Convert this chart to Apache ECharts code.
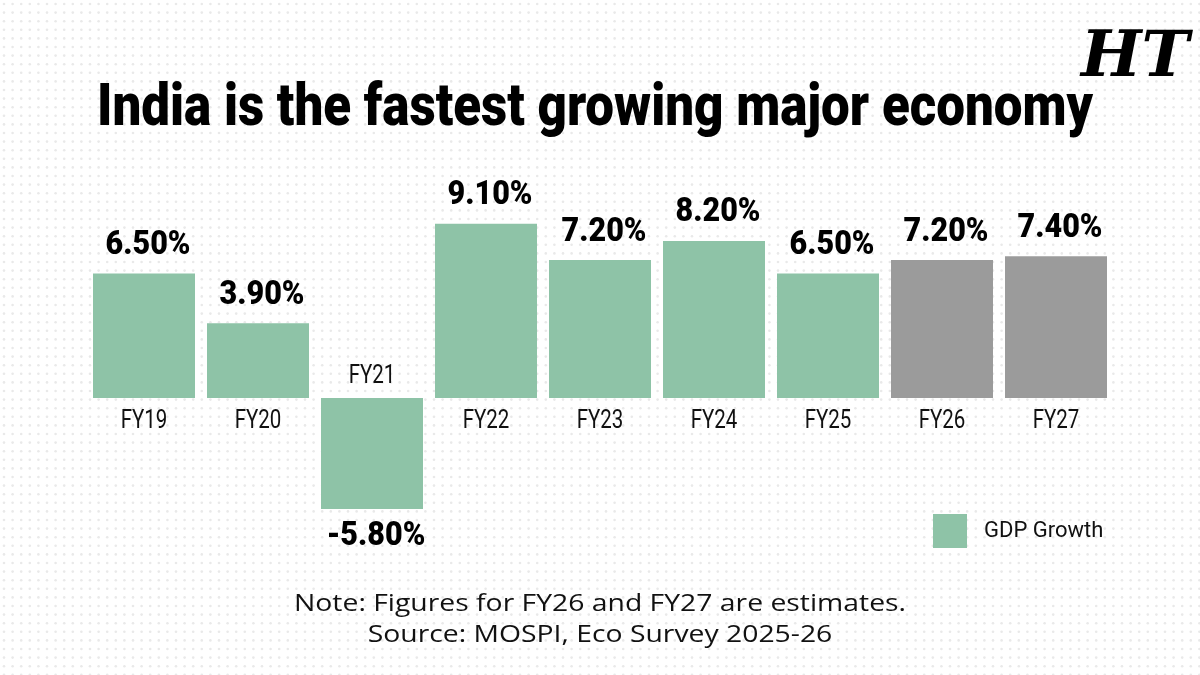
<!DOCTYPE html>
<html>
<head>
<meta charset="utf-8">
<script src="https://cdn.jsdelivr.net/npm/echarts@6/dist/echarts.min.js"></script>
<style>html,body{margin:0;padding:0;background:#fff}#c{width:1200px;height:675px}</style>
</head>
<body>
<div id="c"></div>
<script>
// ---- data ----
const categories = ['FY19', 'FY20', 'FY21', 'FY22', 'FY23', 'FY24', 'FY25', 'FY26', 'FY27'];
const growth = [6.5, 3.9, -5.8, 9.1, 7.2, 8.2, 6.5, 7.2, 7.4];
const isEstimate = [false, false, false, false, false, false, false, true, true];
const seriesName = 'GDP Growth';
const titleText = 'India is the fastest growing major economy';
const noteLines = ['Note: Figures for FY26 and FY27 are estimates.', 'Source: MOSPI, Eco Survey 2025-26'];

// ---- styling ----
const GREEN = '#8ec3a7';
const GRAY = '#9b9b9b';

// measurement helper
const mctx = document.createElement('canvas').getContext('2d');
function textW(txt, font) { mctx.font = font; return mctx.measureText(txt).width; }

// dotted background pattern
const pat = document.createElement('canvas');
pat.width = 43; pat.height = 43;
const pctx = pat.getContext('2d');
pctx.fillStyle = '#ffffff'; pctx.fillRect(0, 0, 43, 43);
pctx.fillStyle = '#e9e9e9';
for (let i = 0; i < 5; i++) for (let j = 0; j < 5; j++) {
  pctx.beginPath(); pctx.arc(4 + i * 8.6, 4 + j * 8.6, 1.3, 0, Math.PI * 2); pctx.fill();
}

const titleFont = '900 59px Roboto';
const titleScale = 996 / textW(titleText, titleFont);
const valFont = '900 34px Roboto';
const valScale = 85 / textW('6.50%', valFont);
const catFont = '25px Roboto';
const noteFont = '23px "Open Sans"';
const noteScale = 612 / textW(noteLines[0], noteFont);

const chart = echarts.init(document.getElementById('c'), null, { renderer: 'canvas' });

const barData = growth.map((v, i) => ({
  value: v,
  itemStyle: { color: isEstimate[i] ? GRAY : GREEN }
}));

const labelData = growth.map((v, i) => [i, v]);

function fmt(v) { return v.toFixed(2) + '%'; }

chart.setOption({
  backgroundColor: { image: pat, repeat: 'repeat' },
  animation: false,
  grid: { left: 87, right: 87, top: 168.2, bottom: 123.8 },
  xAxis: {
    type: 'category', data: categories,
    axisLine: { show: false }, axisTick: { show: false }, axisLabel: { show: false },
    splitLine: { show: false }
  },
  yAxis: {
    type: 'value', min: -8, max: 12, show: false, splitLine: { show: false }
  },
  legend: {
    data: [{ name: seriesName, icon: 'rect', itemStyle: { color: GREEN } }],
    left: 933, top: 514, padding: 0, itemWidth: 34, itemHeight: 34, itemGap: 0,
    textStyle: { fontFamily: 'Roboto', fontSize: 22, color: '#111', padding: [0, 0, 0, 12] },
    selectedMode: false
  },
  graphic: [
    {
      type: 'text', x: 97, y: 110, scaleX: titleScale, z: 10,
      style: { text: titleText, font: titleFont, fill: '#000', textAlign: 'left', textVerticalAlign: 'middle' }
    },
    {
      type: 'text', x: 1135, y: 59, z: 10,
      style: { text: 'HT', font: 'bold italic 64px "DejaVu Serif"', fill: '#000', textAlign: 'center', textVerticalAlign: 'middle' }
    },
    {
      type: 'text', x: 600, y: 604, scaleX: noteScale, z: 10,
      style: { text: noteLines[0], font: noteFont, fill: '#111', textAlign: 'center', textVerticalAlign: 'middle' }
    },
    {
      type: 'text', x: 600, y: 635, scaleX: noteScale, z: 10,
      style: { text: noteLines[1], font: noteFont, fill: '#111', textAlign: 'center', textVerticalAlign: 'middle' }
    }
  ],
  series: [
    {
      name: seriesName, type: 'bar', data: barData,
      barWidth: 102, itemStyle: { color: GREEN }
    },
    {
      // value labels + category labels, positioned by the axes
      type: 'custom', data: labelData, silent: true, z: 5,
      renderItem: function (params, api) {
        const i = api.value(0), v = api.value(1);
        const top = api.coord([i, v]);
        const base = api.coord([i, 0]);
        const pos = v >= 0;
        return {
          type: 'group',
          children: [
            {
              type: 'text', x: top[0] + 4, y: pos ? top[1] - 28 : top[1] + 27, scaleX: valScale,
              style: { text: fmt(v), font: valFont, fill: '#000', align: 'center', verticalAlign: 'middle' }
            },
            {
              type: 'text', x: base[0], y: pos ? base[1] + 24 : base[1] - 21, scaleX: 0.82,
              style: { text: categories[i], font: catFont, fill: '#111', align: 'center', verticalAlign: 'middle' }
            }
          ]
        };
      }
    }
  ]
});
</script>
</body>
</html>
